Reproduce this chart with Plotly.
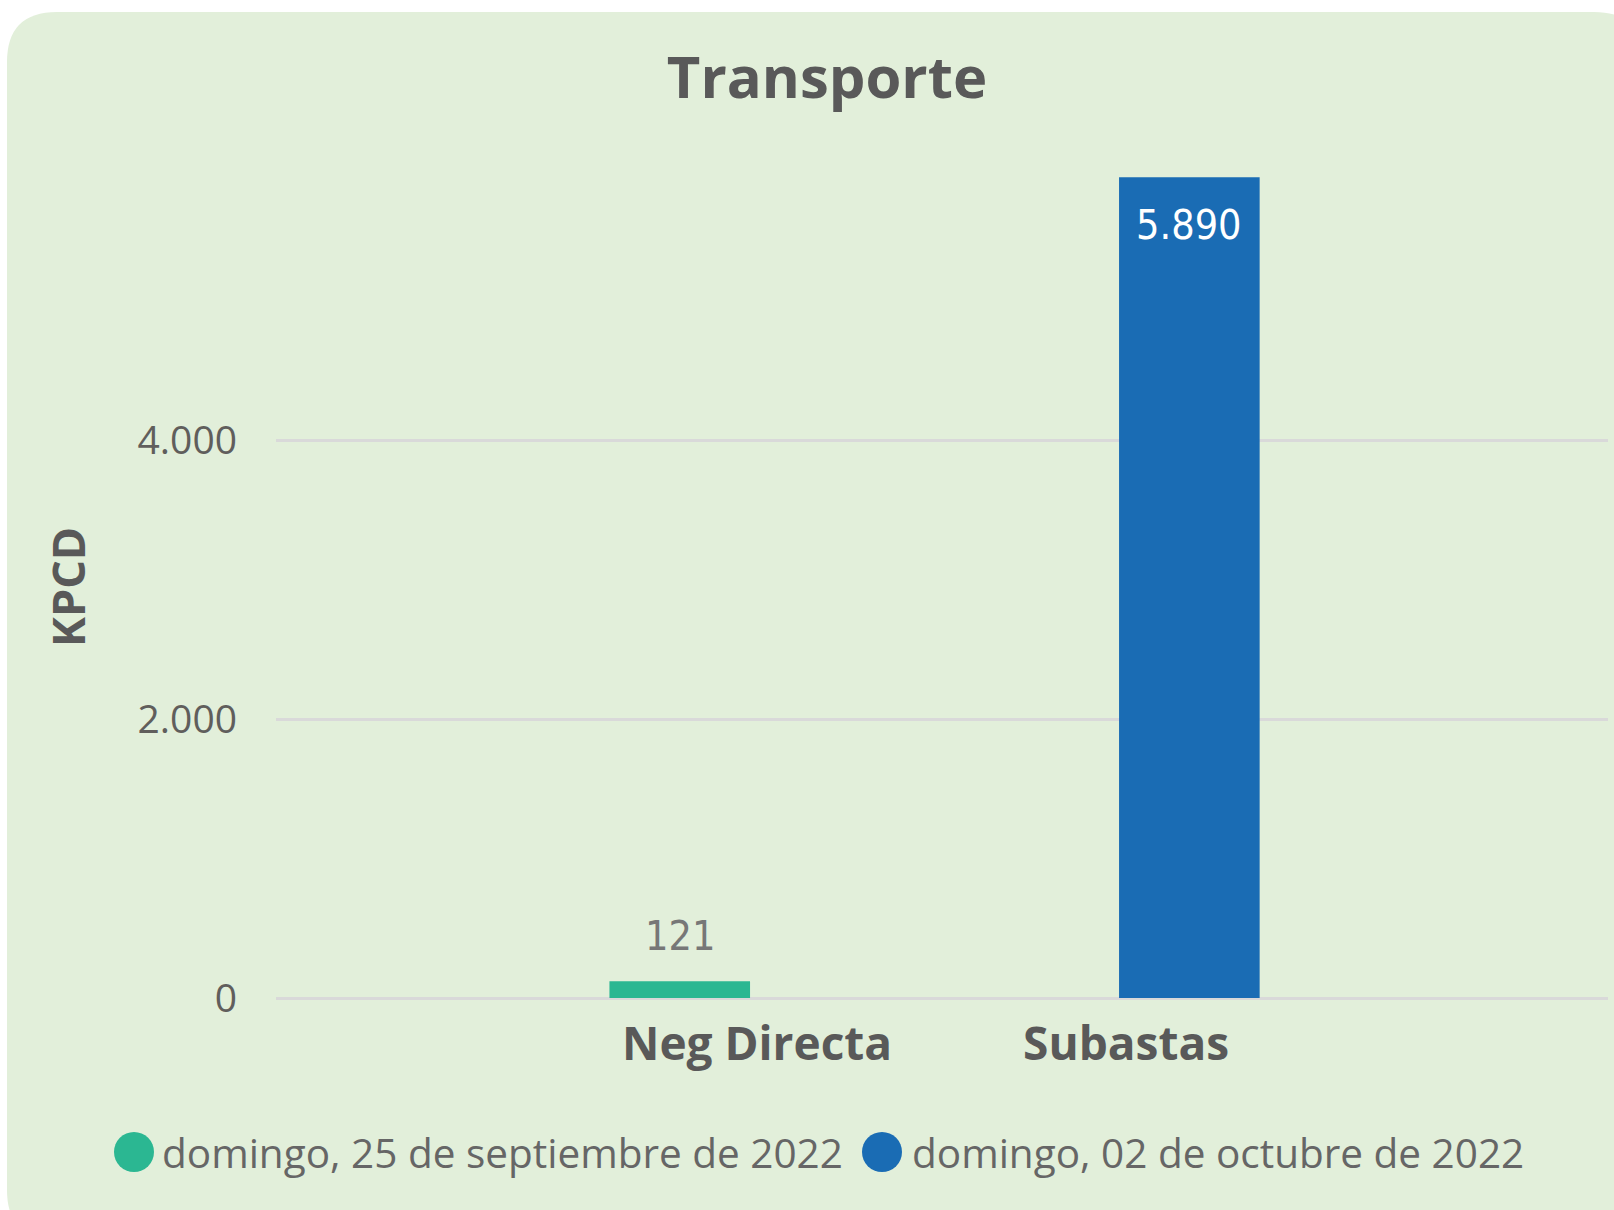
import plotly.graph_objects as go

# ---- data ----
categories = ["Neg Directa", "Subastas"]
series_names = ["domingo, 25 de septiembre de 2022", "domingo, 02 de octubre de 2022"]
values_sep25 = [121, None]
values_oct02 = [None, 5890]
y_ticks = [0, 2000, 4000]

colors = ["#2BB792", "#1A6CB4"]
W, H = 1614, 1210
ML, MR, MT, MB = 276, 6, 162, 212
PW, PH = W - ML - MR, H - MT - MB
x_range = [-1.2846, 2.325]
bar_frac = 0.381
px_per_cat = PW / (x_range[1] - x_range[0])


def px(xp):
    return (xp - ML) / PW


def py(yp):
    return (H - MB - yp) / PH


fig = go.Figure()
for name, vals, col in zip(series_names, [values_sep25, values_oct02], colors):
    fig.add_trace(go.Bar(x=categories, y=vals, name=name, marker=dict(color=col, line=dict(width=0)),
                         showlegend=False))

# data labels
annotations = []
for i, (vals, side) in enumerate(zip([values_sep25, values_oct02], [-1, 1])):
    for cat, v in zip(categories, vals):
        if v is None:
            continue
        txt = f"{v:,}".replace(",", ".")
        inside = v > 3000
        annotations.append(dict(
            x=cat, y=v, xref="x", yref="y", text=txt, showarrow=False,
            xshift=side * bar_frac * px_per_cat / 2,
            yanchor="top" if inside else "bottom",
            yshift=-22 if inside else 19,
            font=dict(family="DejaVu Sans Condensed, Roboto, sans-serif", size=41,
                      color="#FFFFFF" if inside else "#777777"),
        ))

# y axis title
annotations.append(dict(x=px(67), y=py(587), xref="paper", yref="paper", text="<b>KPCD</b>",
                        textangle=-90, showarrow=False, xanchor="center", yanchor="middle",
                        font=dict(family="Open Sans", size=45, color="#595959")))

# legend (custom, circles)
shapes = []
legend_items = [(134, 160), (882, 910)]
for (cx, tx), name, col in zip(legend_items, series_names, colors):
    shapes.append(dict(type="circle", xref="paper", yref="paper", xsizemode="pixel", ysizemode="pixel",
                       xanchor=px(cx), yanchor=py(1152), x0=-20, x1=20, y0=-20, y1=20,
                       fillcolor=col, line=dict(width=0)))
    annotations.append(dict(x=px(tx), y=py(1152), xref="paper", yref="paper", text=name, showarrow=False,
                            xanchor="left", yanchor="middle",
                            font=dict(family="Open Sans", size=40.5, color="#666666")))

# card background (rounded rectangle)
L, T, R, B, r = 7, 12, 1644, 1240, 50
path = (f"M {px(L+r)},{py(T)} L {px(R-r)},{py(T)} Q {px(R)},{py(T)} {px(R)},{py(T+r)} "
        f"L {px(R)},{py(B-r)} Q {px(R)},{py(B)} {px(R-r)},{py(B)} "
        f"L {px(L+r)},{py(B)} Q {px(L)},{py(B)} {px(L)},{py(B-r)} "
        f"L {px(L)},{py(T+r)} Q {px(L)},{py(T)} {px(L+r)},{py(T)} Z")
shapes.insert(0, dict(type="path", path=path, xref="paper", yref="paper", layer="below",
                      fillcolor="#E2EFDA", line=dict(width=0)))

fig.update_layout(
    width=W, height=H,
    margin=dict(l=ML, r=MR, t=MT, b=MB, pad=0),
    paper_bgcolor="#FFFFFF", plot_bgcolor="rgba(0,0,0,0)",
    separators=",.",
    barmode="group", bargap=1 - 2 * bar_frac, bargroupgap=0,
    title=dict(text="<b>Transporte</b>", x=827 / W, xanchor="center", y=1 - 78 / H, yanchor="middle",
               xref="container", yref="container",
               font=dict(family="Open Sans", size=58, color="#595959")),
    xaxis=dict(type="category", range=x_range, showgrid=False, showline=False, zeroline=False,
               ticks="", tickfont=dict(family="Open Sans", size=46, color="#595959", weight="bold"),
               ticklabelstandoff=15, ticklabelshift=7),
    yaxis=dict(range=[0, 6000], tickvals=y_ticks, separatethousands=True, showgrid=True,
               gridcolor="#D9D9D9", gridwidth=3, zeroline=True, zerolinecolor="#D9D9D9", zerolinewidth=3,
               showline=False, ticks="", ticklabelstandoff=38,
               tickfont=dict(family="Open Sans", size=39, color="#605E5C")),
    annotations=annotations, shapes=shapes, showlegend=False,
)

fig.write_html("out.html", config={"displayModeBar": False},
               post_script="document.body.style.margin='0px';")
